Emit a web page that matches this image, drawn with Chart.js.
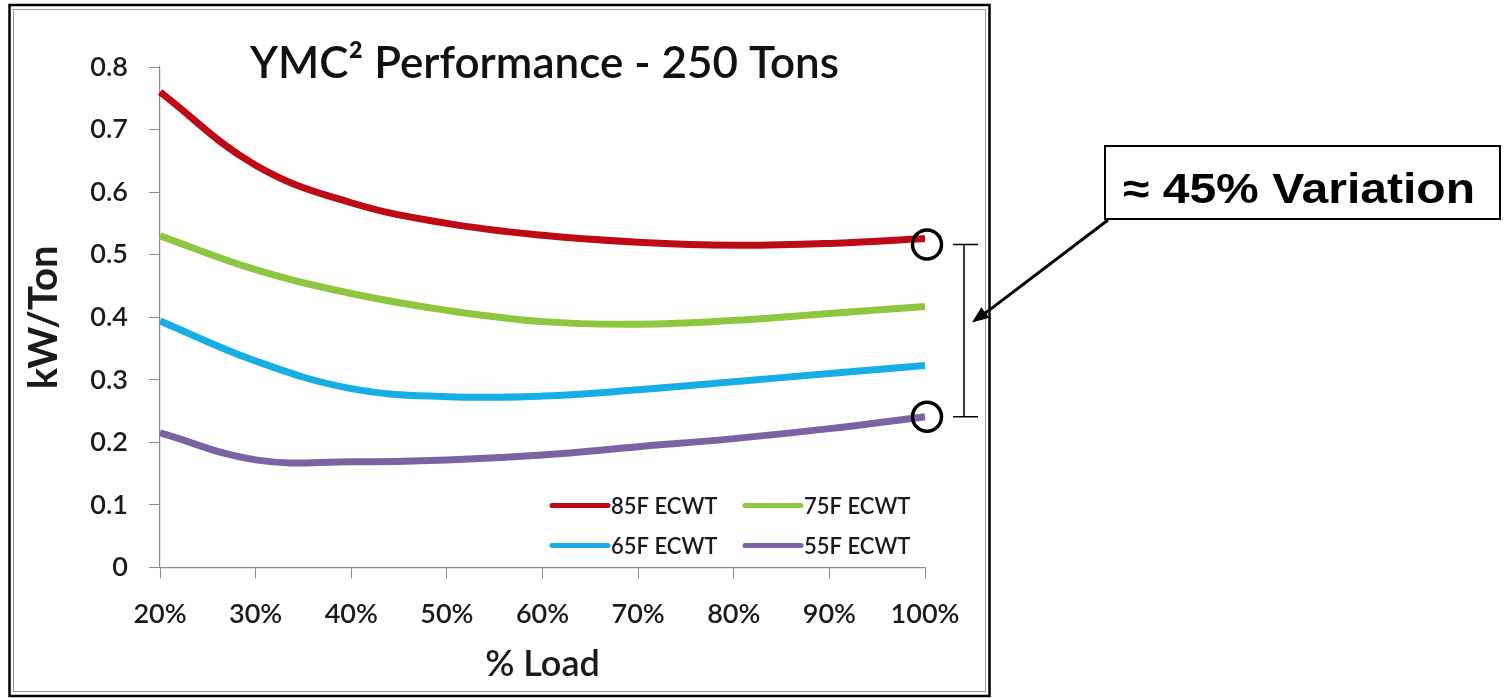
<!DOCTYPE html>
<html>
<head>
<meta charset="utf-8">
<script src="https://cdn.jsdelivr.net/npm/chart.js@4.4.1/dist/chart.umd.min.js"></script>
<style>
  html, body { margin: 0; padding: 0; background: #fff; }
  canvas { display: block; }
</style>
</head>
<body>
<canvas id="chart" width="1505" height="698"></canvas>
<script>
// % load categories
const loadLabels = ['20%', '30%', '40%', '50%', '60%', '70%', '80%', '90%', '100%'];

// kW/Ton per entering condenser water temp
const ecwt85 = [0.760, 0.643, 0.583, 0.550, 0.531, 0.520, 0.515, 0.518, 0.526];
const ecwt75 = [0.530, 0.476, 0.438, 0.411, 0.393, 0.389, 0.395, 0.406, 0.417];
const ecwt65 = [0.394, 0.330, 0.286, 0.273, 0.274, 0.284, 0.297, 0.310, 0.323];
const ecwt55 = [0.215, 0.172, 0.169, 0.172, 0.180, 0.193, 0.206, 0.222, 0.241];

const seriesNames = ['85F ECWT', '75F ECWT', '65F ECWT', '55F ECWT'];
const seriesColors = ['#BE0A14', '#8DC63F', '#17AEE5', '#7B62A3'];

const yTicks = [0, 0.1, 0.2, 0.3, 0.4, 0.5, 0.6, 0.7, 0.8];

const chartTitle = 'YMC² Performance - 250 Tons';
const noteText = '≈ 45% Variation';

const FONT = 'Lato, "Open Sans", sans-serif';

// frame, title, legend and the call-out on the right
const extras = {
  id: 'extras',
  beforeDraw(chart) {
    const ctx = chart.ctx;
    ctx.save();
    ctx.fillStyle = '#fff';
    ctx.fillRect(0, 0, chart.width, chart.height);
    ctx.strokeStyle = '#000';
    ctx.lineWidth = 2.5;
    ctx.strokeRect(9.5, 5, 980, 691);
    ctx.strokeStyle = '#9a9a9a';
    ctx.lineWidth = 1;
    ctx.strokeRect(13.5, 9.5, 972, 682);
    ctx.restore();
  },
  afterDraw(chart) {
    const ctx = chart.ctx;
    const area = chart.chartArea;
    const xs = chart.scales.x, ys = chart.scales.y;
    ctx.save();

    // title
    ctx.fillStyle = '#111';
    ctx.font = '600 44px ' + FONT;
    ctx.textAlign = 'center';
    ctx.textBaseline = 'alphabetic';
    ctx.fillText(chartTitle, (area.left + area.right) / 2 + 2, 78);

    // legend, two columns inside the plot
    ctx.font = '600 22px ' + FONT;
    ctx.textAlign = 'left';
    ctx.textBaseline = 'middle';
    const cols = [area.left + 392, area.left + 585];
    const rows = [area.bottom - 62, area.bottom - 22];
    chart.data.datasets.forEach((ds, i) => {
      const x = cols[i % 2], y = rows[Math.floor(i / 2)];
      ctx.strokeStyle = ds.borderColor;
      ctx.lineWidth = 5;
      ctx.lineCap = 'round';
      ctx.beginPath();
      ctx.moveTo(x, y);
      ctx.lineTo(x + 56, y);
      ctx.stroke();
      ctx.fillStyle = '#1a1a1a';
      ctx.fillText(ds.label, x + 59, y + 1);
    });
    ctx.lineCap = 'butt';

    // circles round the 100% points of the top and bottom curve
    const last = loadLabels.length - 1;
    const cTop = ys.getPixelForValue(ecwt85[last]) + 6;
    const cBot = ys.getPixelForValue(ecwt55[last]);
    const cx = xs.getPixelForValue(last) + 2;
    ctx.strokeStyle = '#000';
    ctx.lineWidth = 3.5;
    [cTop, cBot].forEach(cy => {
      ctx.beginPath();
      ctx.arc(cx, cy, 14.5, 0, Math.PI * 2);
      ctx.stroke();
    });

    // bracket
    const bx = cx + 37;
    ctx.lineWidth = 1.5;
    ctx.beginPath();
    ctx.moveTo(bx - 11, cTop); ctx.lineTo(bx + 14, cTop);
    ctx.moveTo(bx, cTop); ctx.lineTo(bx, cBot);
    ctx.moveTo(bx - 11, cBot); ctx.lineTo(bx + 14, cBot);
    ctx.stroke();

    // call-out box
    const boxL = 1105, boxT = 146, boxR = 1500, boxB = 219;
    ctx.fillStyle = '#fff';
    ctx.fillRect(boxL, boxT, boxR - boxL, boxB - boxT);
    ctx.lineWidth = 2;
    ctx.strokeRect(boxL, boxT, boxR - boxL, boxB - boxT);
    ctx.fillStyle = '#000';
    ctx.font = 'bold 42px "Liberation Sans", Arial, sans-serif';
    ctx.textBaseline = 'alphabetic';
    const w = ctx.measureText(noteText).width;
    ctx.save();
    ctx.translate(1123, 203);
    ctx.scale(352 / w, 1);
    ctx.fillText(noteText, 0, 0);
    ctx.restore();

    // arrow to the bracket
    const ax0 = boxL + 3, ay0 = boxB + 1, ax1 = bx + 8, ay1 = (cTop + cBot) / 2 - 8;
    ctx.lineWidth = 3;
    ctx.beginPath();
    ctx.moveTo(ax0, ay0);
    ctx.lineTo(ax1 + 10, ay1 - 7);
    ctx.stroke();
    const ang = Math.atan2(ay1 - ay0, ax1 - ax0);
    ctx.beginPath();
    ctx.moveTo(ax1, ay1);
    ctx.lineTo(ax1 - 18 * Math.cos(ang - 0.38), ay1 - 18 * Math.sin(ang - 0.38));
    ctx.lineTo(ax1 - 18 * Math.cos(ang + 0.38), ay1 - 18 * Math.sin(ang + 0.38));
    ctx.closePath();
    ctx.fill();

    ctx.restore();
  }
};

const dataSets = [ecwt85, ecwt75, ecwt65, ecwt55].map((vals, i) => ({
  label: seriesNames[i],
  data: vals,
  borderColor: seriesColors[i],
  backgroundColor: seriesColors[i],
  borderWidth: 7,
  pointRadius: 0,
  tension: 0.4,
  fill: false
}));

new Chart(document.getElementById('chart'), {
  type: 'line',
  data: { labels: loadLabels, datasets: dataSets },
  plugins: [extras],
  options: {
    responsive: false,
    animation: false,
    devicePixelRatio: 1,
    layout: { padding: { left: 12, top: 67, right: 580, bottom: 0 } },
    plugins: {
      legend: { display: false },
      title: { display: false },
      tooltip: { enabled: false }
    },
    scales: {
      x: {
        type: 'category',
        offset: false,
        afterFit(scale) { scale.height = 130.5; },
        grid: { drawOnChartArea: false, drawTicks: true, tickLength: 11, color: '#8a8a8a' },
        border: { display: true, color: '#8a8a8a', width: 1.2 },
        ticks: { color: '#1a1a1a', font: { family: FONT, size: 27, weight: '600' }, padding: 20, maxRotation: 0, autoSkip: false },
        title: { display: true, text: '% Load', color: '#1a1a1a', font: { family: FONT, size: 36, weight: '600' }, padding: { top: 0, bottom: 12 } }
      },
      y: {
        min: 0,
        max: 0.8,
        afterFit(scale) { scale.width = 148; },
        afterBuildTicks(scale) { scale.ticks = yTicks.map(v => ({ value: v })); },
        grid: { drawOnChartArea: false, drawTicks: true, tickLength: 11, color: '#8a8a8a' },
        border: { display: true, color: '#8a8a8a', width: 1.2 },
        ticks: {
          color: '#1a1a1a',
          font: { family: FONT, size: 27, weight: '600' },
          padding: 21,
          callback: v => (v === 0 ? '0' : v.toFixed(1))
        },
        title: { display: true, text: 'kW/Ton', color: '#1a1a1a', font: { family: FONT, size: 40, weight: 'bold' }, padding: { top: 8, bottom: 0 } }
      }
    }
  }
});
</script>
</body>
</html>
